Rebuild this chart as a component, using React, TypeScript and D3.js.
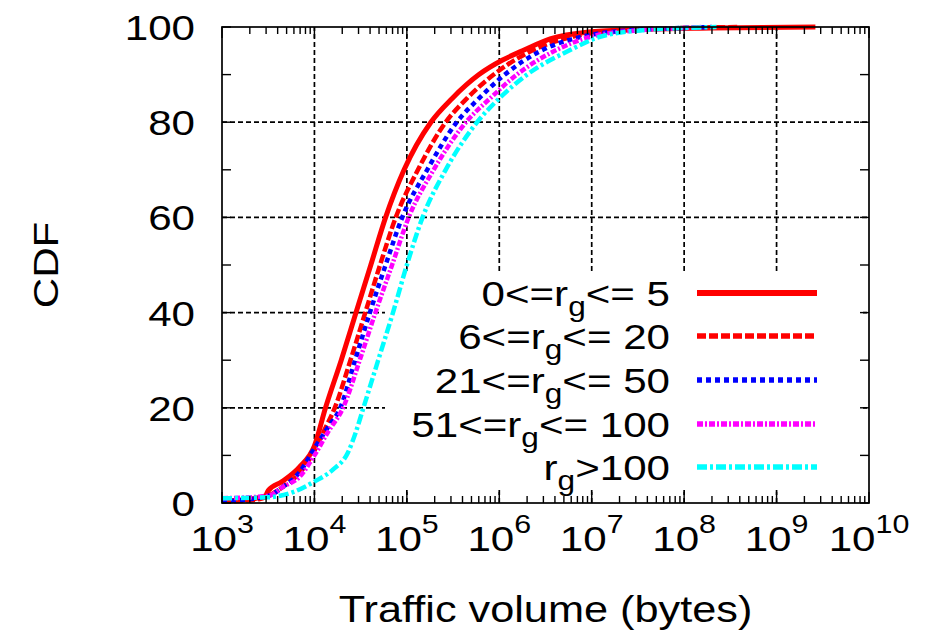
import React from "react";
import * as d3 from "d3";

// ---- data (x as log10(bytes), y as CDF %) ----
const seriesLabels = ["0<=r|g|<= 5", "6<=r|g|<= 20", "21<=r|g|<= 50", "51<=r|g|<= 100", "r|g|>100"];

const s1Exp = [3.0, 3.3, 3.47, 3.5, 3.65, 3.84, 4.0, 4.12, 4.29, 4.45, 4.61, 4.77, 4.97, 5.26, 5.49, 5.78, 6.03, 6.25, 6.55, 7.0, 7.5, 8.3, 9.42];
const s1Cdf = [0.4, 0.8, 1.5, 2.6, 4.5, 7.6, 12, 20, 30, 40, 50, 60, 70, 80, 85, 90, 93, 95, 97.5, 99, 99.5, 99.8, 100];

const s2Exp = [3.0, 3.4, 3.55, 3.7, 3.85, 4.0, 4.1, 4.22, 4.39, 4.55, 4.71, 4.88, 5.12, 5.42, 5.65, 5.94, 6.35, 6.8, 7.3, 8.0, 8.6];
const s2Cdf = [0.3, 0.8, 2, 4, 6.5, 11, 15, 20, 30, 40, 50, 60, 70, 80, 85, 90, 95, 98, 99.2, 99.8, 100];

const s3Exp = [3.0, 3.5, 3.66, 3.84, 4.0, 4.15, 4.28, 4.44, 4.6, 4.77, 4.95, 5.22, 5.54, 5.78, 6.06, 6.45, 6.9, 7.4, 8.0, 8.3];
const s3Cdf = [0.3, 1.5, 3.4, 6.5, 11.5, 16, 20, 30, 40, 50, 60, 70, 80, 85, 90, 95, 98, 99.3, 99.8, 100];

const s4Exp = [3.0, 3.5, 3.66, 3.84, 4.0, 4.15, 4.31, 4.49, 4.66, 4.84, 5.02, 5.29, 5.64, 5.9, 6.19, 6.6, 7.0, 7.5, 8.0, 8.2];
const s4Cdf = [1, 1.5, 3.4, 5.5, 10, 15, 20, 30, 40, 50, 60, 70, 80, 85, 90, 95, 98, 99.3, 99.8, 100];

const s5Exp = [3.0, 3.5, 3.77, 4.0, 4.2, 4.36, 4.45, 4.53, 4.69, 4.85, 5.0, 5.17, 5.42, 5.76, 6.0, 6.3, 6.75, 7.1, 7.6, 8.0, 8.35];
const s5Cdf = [1, 1.2, 2.3, 4.5, 7, 10.5, 15, 20, 30, 40, 50, 60, 70, 80, 85, 90, 95, 98, 99.4, 99.8, 100];

const xTickExps = [3, 4, 5, 6, 7, 8, 9, 10];
const yTicks = [0, 20, 40, 60, 80, 100];
const yMinorTicks = [10, 30, 50, 70, 90];

const colors = ["#ff0000", "#ff0000", "#0000ff", "#ff00ff", "#00ffff"];
const dashes = ["none", "9 3", "5 4", "6 2 2 2", "10 3 3 3"];
const widths = [5, 4.5, 4.5, 4.5, 4.5];

const allExp = [s1Exp, s2Exp, s3Exp, s4Exp, s5Exp];
const allCdf = [s1Cdf, s2Cdf, s3Cdf, s4Cdf, s5Cdf];

const FONT = "'Liberation Sans', Arial, Helvetica, sans-serif";
const SX = 1.17;

export default function App() {
  const W = 925, H = 639;
  const L = 222, R = 869, T = 27, B = 503;
  const x = d3.scaleLog().domain([1e3, 1e10]).range([L, R]);
  const y = d3.scaleLinear().domain([0, 100]).range([B, T]);

  const line = d3
    .line<[number, number]>()
    .x((d) => x(Math.pow(10, d[0])))
    .y((d) => y(d[1]))
    .curve(d3.curveMonotoneX);

  const minorX: number[] = [];
  for (let e = 3; e < 10; e++) for (let m = 2; m <= 9; m++) minorX.push(m * Math.pow(10, e));

  const legendY = [293, 336, 380, 424, 467];

  return (
    <svg width={W} height={H} style={{ position: "absolute", left: 0, top: 0, background: "#fff" }} fontFamily={FONT}>
      <rect x={0} y={0} width={W} height={H} fill="#fff" />
      {/* grid */}
      {xTickExps.slice(1, -1).map((e) => (
        <line key={"gx" + e} x1={x(Math.pow(10, e))} x2={x(Math.pow(10, e))} y1={B} y2={T} stroke="#000" strokeWidth={1.7} strokeDasharray="5 3" />
      ))}
      {yTicks.slice(1, -1).map((v) => (
        <line key={"gy" + v} x1={L} x2={R} y1={y(v)} y2={y(v)} stroke="#000" strokeWidth={1.7} strokeDasharray="5 3" />
      ))}
      {/* legend background */}
      <rect x={385} y={271} width={478} height={217} fill="#fff" />
      {/* curves */}
      {allExp.map((ex, i) => {
        const pts = ex.map((e, j) => [e, allCdf[i][j]] as [number, number]);
        return (
          <path key={"c" + i} d={line(pts) || ""} fill="none" stroke={colors[i]} strokeWidth={widths[i]} strokeDasharray={dashes[i]} strokeLinejoin="round" />
        );
      })}
      {/* ticks */}
      {[...yTicks, ...yMinorTicks].map((v) => (
        <g key={"ty" + v}>
          <line x1={L} x2={L + 9} y1={y(v)} y2={y(v)} stroke="#000" strokeWidth={1.4} />
          <line x1={R} x2={R - 9} y1={y(v)} y2={y(v)} stroke="#000" strokeWidth={1.4} />
        </g>
      ))}
      {xTickExps.map((e) => (
        <g key={"tx" + e}>
          <line x1={x(Math.pow(10, e))} x2={x(Math.pow(10, e))} y1={B} y2={B - 11} stroke="#000" strokeWidth={1.4} />
          <line x1={x(Math.pow(10, e))} x2={x(Math.pow(10, e))} y1={T} y2={T + 11} stroke="#000" strokeWidth={1.4} />
        </g>
      ))}
      {minorX.map((v, i) => (
        <g key={"mx" + i}>
          <line x1={x(v)} x2={x(v)} y1={B} y2={B - 7} stroke="#000" strokeWidth={1.4} />
          <line x1={x(v)} x2={x(v)} y1={T} y2={T + 7} stroke="#000" strokeWidth={1.4} />
        </g>
      ))}
      {/* frame */}
      <rect x={L} y={T} width={R - L} height={B - T} fill="none" stroke="#000" strokeWidth={1.7} />
      {/* y tick labels */}
      {yTicks.map((v) => (
        <g key={"yl" + v} transform={`translate(${L - 27},${y(v) + 13}) scale(${SX},1)`}>
          <text textAnchor="end" fontSize={36} fill="#000">{v}</text>
        </g>
      ))}
      {/* x tick labels */}
      {xTickExps.map((e) => (
        <g key={"xl" + e} transform={`translate(${x(Math.pow(10, e))},${551}) scale(${SX},1)`}>
          <text textAnchor="middle" fontSize={36} fill="#000">
            10<tspan fontSize={26} dy={-18}>{e}</tspan>
          </text>
        </g>
      ))}
      {/* axis titles */}
      <g transform={`translate(${(L + R) / 2},${622}) scale(${SX},1)`}>
        <text textAnchor="middle" fontSize={37} fill="#000">Traffic volume (bytes)</text>
      </g>
      <g transform={`translate(58,${(T + B) / 2}) rotate(-90) scale(${SX},1)`}>
        <text textAnchor="middle" fontSize={36} fill="#000">CDF</text>
      </g>
      {/* legend */}
      {seriesLabels.map((lab, i) => {
        const [a, sub, b] = lab.split("|");
        return (
          <g key={"lg" + i}>
            <g transform={`translate(670,${legendY[i] + 13}) scale(${SX},1)`}>
              <text textAnchor="end" fontSize={36} fill="#000">
                {a}
                <tspan fontSize={27} dy={10}>{sub}</tspan>
                <tspan dy={-10}>{b}</tspan>
              </text>
            </g>
            <line x1={697} x2={817} y1={legendY[i]} y2={legendY[i]} stroke={colors[i]} strokeWidth={widths[i] + 1} strokeDasharray={dashes[i]} />
          </g>
        );
      })}
    </svg>
  );
}
